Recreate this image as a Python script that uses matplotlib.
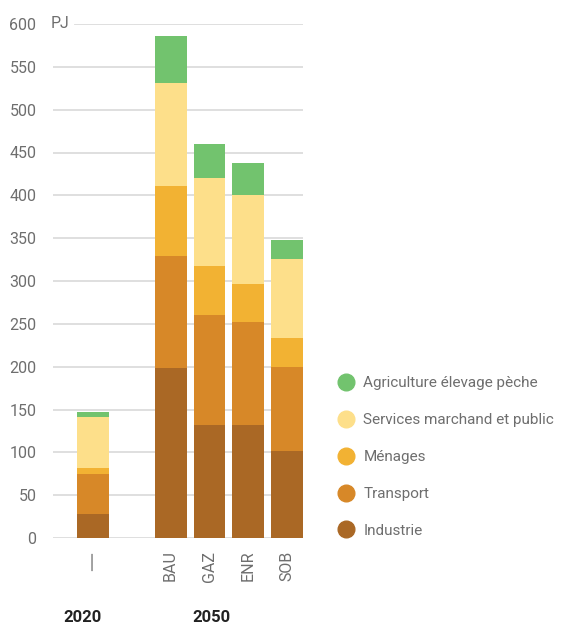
import matplotlib.pyplot as plt
from matplotlib.lines import Line2D

plt.rcParams['font.family'] = ['Roboto', 'DejaVu Sans']

# Consommation d'énergie finale par secteur (PJ)
scenarios = ['2020', 'BAU', 'GAZ', 'ENR', 'SOB']
tick_labels = ['—', 'BAU', 'GAZ', 'ENR', 'SOB']
secteurs = ['Industrie', 'Transport', 'Ménages',
            'Services marchand et public', 'Agriculture élevage pèche']
industrie = [28, 199, 132, 132, 102]
transport = [47, 130, 128, 120, 98]
menages = [7, 82, 58, 45, 34]
services = [59, 120, 102, 103, 92]
agriculture = [6, 55, 40, 38, 22]
couleurs = ['#AA6825', '#D78828', '#F2B233', '#FDDF8A', '#72C36E']

positions = [0, 2, 3, 4, 5]

fig = plt.figure(figsize=(5.66, 6.3), dpi=100)
ax = fig.add_axes([53 / 566, (630 - 538) / 630, 250 / 566, 514 / 630])

bas = [0] * len(scenarios)
for nom, valeurs, c in zip(secteurs, [industrie, transport, menages, services, agriculture], couleurs):
    ax.bar(positions, valeurs, bottom=bas, width=0.82, color=c, zorder=3)
    bas = [b + v for b, v in zip(bas, valeurs)]

ax.set_xlim(-1.03, 5.41)
ax.set_ylim(0, 600)

# grille horizontale, la ligne du haut laisse la place à l'unité
for y in range(0, 601, 50):
    xmin = 0.088 if y == 600 else 0
    ax.axhline(y, xmin=xmin, xmax=1, color='#dcdcdc', lw=1.3, zorder=1)

ax.set_yticks(range(0, 601, 50))
ax.set_xticks(positions)
ax.set_xticklabels(tick_labels, rotation=90)
ax.tick_params(axis='both', length=0, colors='#6e6e6e', labelsize=11.5)
ax.tick_params(axis='y', pad=12)
ax.tick_params(axis='x', pad=9)
ax.get_xticklabels()[0].set_fontsize(19)
ax.get_xticklabels()[0].set_color('#a0a0a0')
for s in ax.spines.values():
    s.set_visible(False)

ax.text(-1.08, 600, 'PJ', ha='left', va='center', color='#6e6e6e', fontsize=11.5)

# années
fig.text(82.5 / 566, 1 - 617 / 630, '2020', ha='center', va='center',
         fontsize=12, fontweight='bold', color='#222222')
fig.text(211 / 566, 1 - 617 / 630, '2050', ha='center', va='center',
         fontsize=12, fontweight='bold', color='#222222')

handles = [Line2D([], [], ls='none', marker='o', markersize=12, color=c)
           for c in couleurs[::-1]]
fig.legend(handles, secteurs[::-1], loc='center left',
           bbox_to_anchor=(323 / 566, 1 - 457 / 630), frameon=False,
           fontsize=11, labelcolor='#6e6e6e', labelspacing=1.5,
           handletextpad=0.55, handlelength=1.2)

fig.savefig('out.png', dpi=100)
